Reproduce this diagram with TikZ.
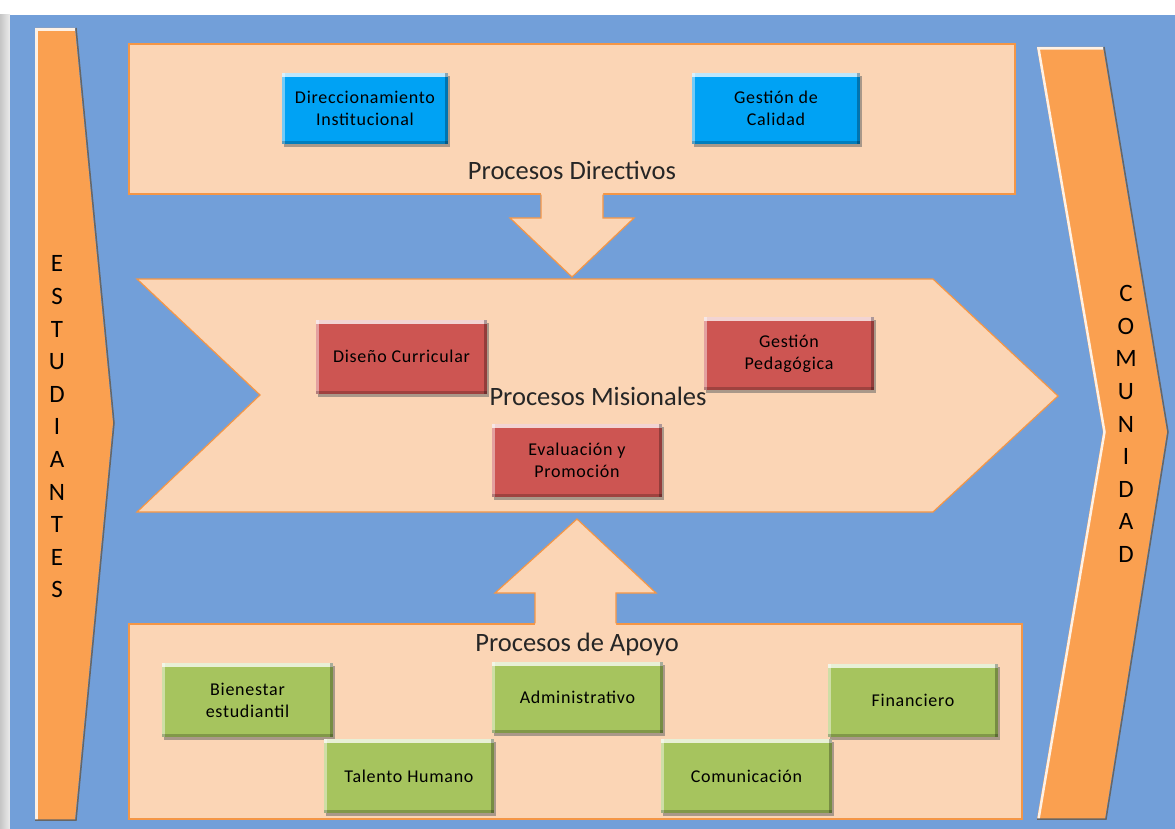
\documentclass[tikz,border=0pt]{standalone}
\usepackage{fontspec}
\setmainfont{Carlito}
\newfontfamily\boxfont[LetterSpace=4]{Carlito}
\usetikzlibrary{shadows}
\definecolor{bgblue}{RGB}{114,159,217}
\definecolor{peach}{RGB}{251,213,181}
\definecolor{peachline}{RGB}{244,150,70}
\definecolor{orangearrow}{RGB}{250,160,80}
\definecolor{boxblue}{RGB}{0,162,244}
\definecolor{boxred}{RGB}{205,85,82}
\definecolor{boxgreen}{RGB}{166,196,94}
\tikzset{
  panel/.style={fill=peach, draw=peachline, line width=1.2pt, line join=miter},
  bevelbox/.style={draw=none, align=center, inner sep=2pt,
    font=\boxfont\fontsize{18}{22}\selectfont, text=black,
    drop shadow={shadow xshift=2pt, shadow yshift=-3pt, opacity=.55, fill=gray!80!black},
    path picture={
      \fill[white, opacity=.75] (path picture bounding box.north west) rectangle ([yshift=-4pt]path picture bounding box.north east);
      \fill[white, opacity=.45] (path picture bounding box.north west) rectangle ([xshift=3pt]path picture bounding box.south west);
      \fill[black, opacity=.28] ([xshift=-3pt]path picture bounding box.north east) rectangle (path picture bounding box.south east);
      \fill[black, opacity=.22] ([yshift=3pt]path picture bounding box.south west) rectangle (path picture bounding box.south east);
    }},
  bluebox/.style={bevelbox, fill=boxblue},
  redbox/.style={bevelbox, fill=boxred},
  greenbox/.style={bevelbox, fill=boxgreen},
  titletext/.style={font=\fontsize{26.5}{30}\selectfont, text=black!85},
  sidetext/.style={font=\fontsize{25}{32.6}\selectfont, align=center, text=black, inner sep=0pt},
  sidearrow/.style={fill=orangearrow},
  lightedge/.style={draw=white!85!orangearrow, line width=2.5pt},
  darkedge/.style={draw=black!60, line width=1.5pt}
}
\begin{document}
\begin{tikzpicture}[x=1pt,y=-1pt]
\useasboundingbox (0,0) rectangle (1175,829);
\fill[white] (0,0) rectangle (1175,829);
\shade[left color=gray!45, right color=gray!15] (0,15) rectangle (10,829);
\fill[bgblue] (10,15) rectangle (1175,829);

% ESTUDIANTES side arrow
\fill[sidearrow] (35,28) -- (75,28) -- (113,423) -- (75,820) -- (35,820) -- cycle;
\draw[lightedge] (36.5,820) -- (36.5,29.5) -- (75,29.5);
\draw[darkedge] (76,28) -- (114,423) -- (76,820) -- (35,820);
\node[sidetext] (est) at (57,427) {E\\S\\T\\U\\D\\I\\A\\N\\T\\E\\S};

% COMUNIDAD side arrow
\fill[sidearrow] (1037,47) -- (1103,47) -- (1167,432) -- (1105,819) -- (1037,819) -- (1103,432) -- cycle;
\draw[lightedge] (1038.5,819) -- (1104.5,432) -- (1038.5,48.5) -- (1103,48.5);
\draw[darkedge] (1104,47) -- (1168,432) -- (1106,819) -- (1037,819);
\node[sidetext] (com) at (1126,424) {C\\O\\M\\U\\N\\I\\D\\A\\D};

% Procesos Directivos panel
\draw[panel] (129,44) rectangle (1015,194);
\fill[peach] (541,192) -- (603,192) -- (603,218) -- (634,218) -- (572,277) -- (510,218) -- (541,218) -- cycle;
\draw[peachline, line width=1.2pt] (541,194.6) -- (541,218) -- (510,218) -- (572,277) -- (634,218) -- (603,218) -- (603,194.6);
\node[titletext] (tdir) at (572,170) {Procesos Directivos};
\node[bluebox, minimum width=166pt, minimum height=71pt] (dirI) at (365,108.5) {Direccionamiento\\Institucional};
\node[bluebox, minimum width=168pt, minimum height=71pt] (gcal) at (776,108.5) {Gestión de\\Calidad};

% Procesos Misionales chevron
\draw[panel] (137,279) -- (933,279) -- (1058,396) -- (933,512) -- (137,512) -- (260,395) -- cycle;
\node[redbox, minimum width=171pt, minimum height=74pt] (disc) at (401.5,356.5) {Diseño Curricular};
\node[redbox, minimum width=170pt, minimum height=73pt] (gped) at (789,353.5) {Gestión\\Pedagógica};
\node[redbox, minimum width=170pt, minimum height=73pt] (eval) at (577,460.5) {Evaluación y\\Promoción};
\node[titletext] (tmis) at (598,396) {Procesos Misionales};

% Procesos de Apoyo panel
\draw[panel] (129,624) rectangle (1022,819);
\fill[peach] (535,626) -- (535,593) -- (495,593) -- (577,519) -- (656,593) -- (616,593) -- (616,626) -- cycle;
\draw[peachline, line width=1.2pt] (535,623.4) -- (535,593) -- (495,593) -- (577,519) -- (656,593) -- (616,593) -- (616,623.4);
\node[titletext] (tapo) at (577,644) {Procesos de Apoyo};
\node[greenbox, minimum width=171pt, minimum height=74pt] (bien) at (247.5,700) {Bienestar\\estudiantil};
\node[greenbox, minimum width=171pt, minimum height=71pt] (adm) at (577.5,697.5) {Administrativo};
\node[greenbox, minimum width=170pt, minimum height=73pt] (fin) at (913,700.5) {Financiero};
\node[greenbox, minimum width=170pt, minimum height=74pt] (tal) at (409,776) {Talento Humano};
\node[greenbox, minimum width=171pt, minimum height=74pt] (comu) at (746.5,776) {Comunicación};
\end{tikzpicture}
\end{document}
